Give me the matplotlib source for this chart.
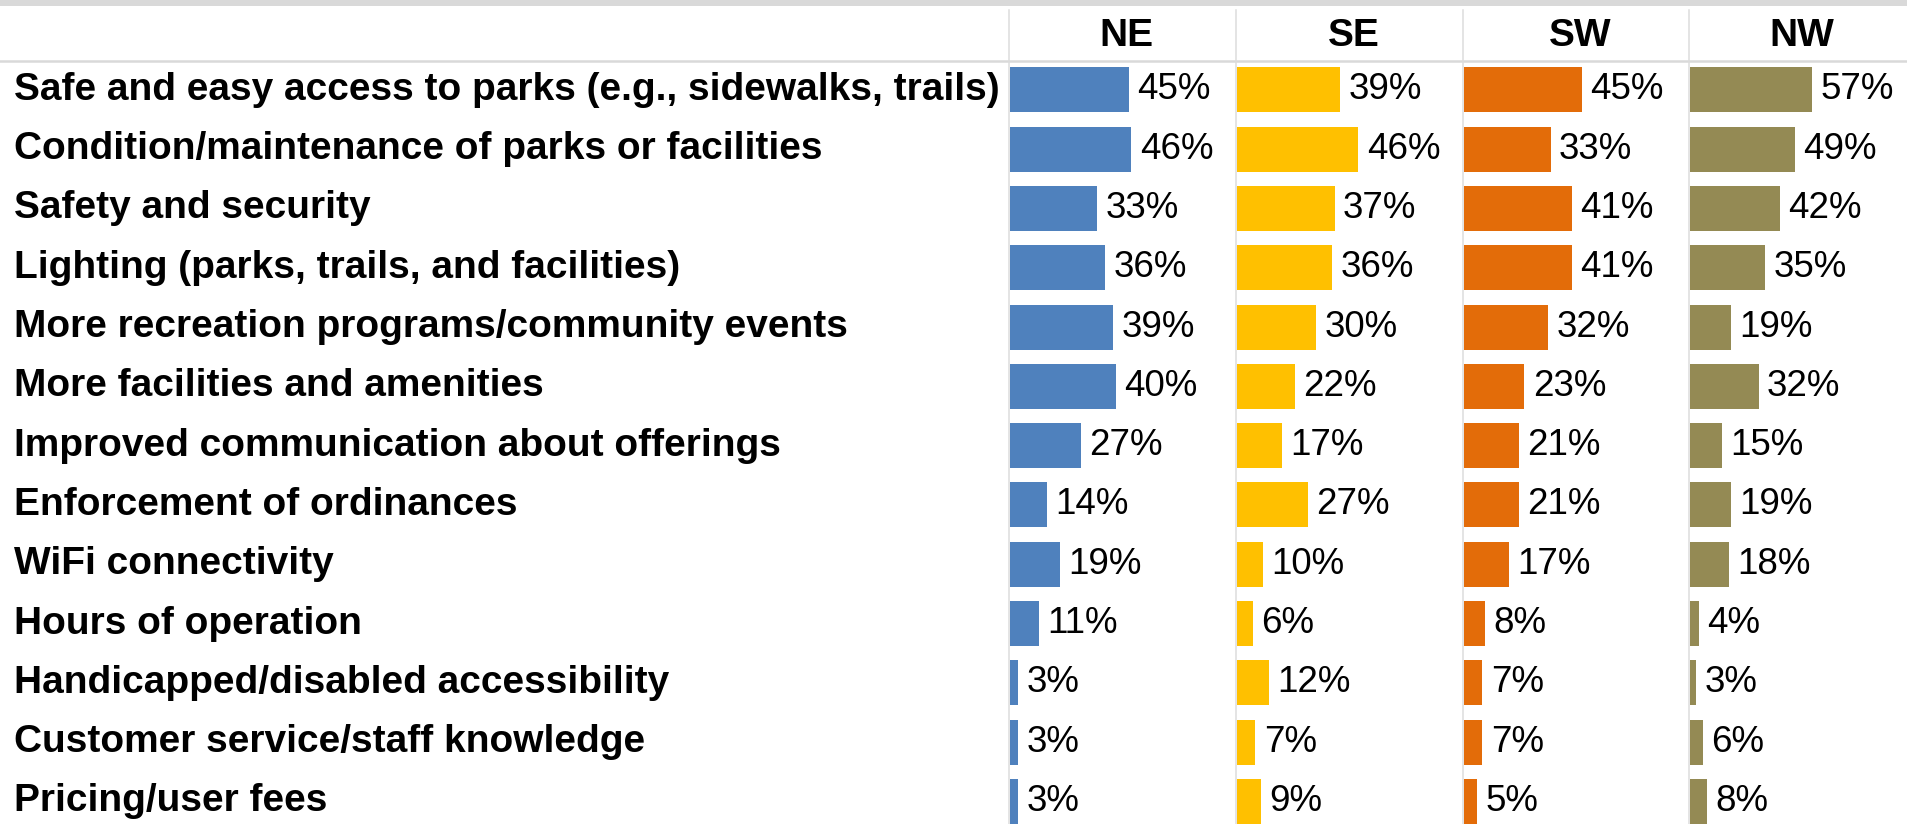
import matplotlib.pyplot as plt
from matplotlib.transforms import blended_transform_factory
from matplotlib.lines import Line2D
from matplotlib.patches import Rectangle

plt.rcParams['font.family'] = ['Liberation Sans', 'DejaVu Sans']

categories = [
    'Safe and easy access to parks (e.g., sidewalks, trails)',
    'Condition/maintenance of parks or facilities',
    'Safety and security',
    'Lighting (parks, trails, and facilities)',
    'More recreation programs/community events',
    'More facilities and amenities',
    'Improved communication about offerings',
    'Enforcement of ordinances',
    'WiFi connectivity',
    'Hours of operation',
    'Handicapped/disabled accessibility',
    'Customer service/staff knowledge',
    'Pricing/user fees',
]
regions = ['NE', 'SE', 'SW', 'NW']
ne = [45, 46, 33, 36, 39, 40, 27, 14, 19, 11, 3, 3, 3]
se = [39, 46, 37, 36, 30, 22, 17, 27, 10, 6, 12, 7, 9]
sw = [45, 33, 41, 41, 32, 23, 21, 21, 17, 8, 7, 7, 5]
nw = [57, 49, 42, 35, 19, 32, 15, 19, 18, 4, 3, 6, 8]
series = [ne, se, sw, nw]
colors = ['#4f81bd', '#ffc000', '#e36c09', '#948a54']
# each column has its own scale
xmax = [86, 86, 86, 101]

W, H = 1907, 824
fig = plt.figure(figsize=(W / 100, H / 100), dpi=100)

# panel edges in pixels
edges = [1010, 1237, 1464, 1690, 1907]
top_px, row_px = 60.2, 59.3
n = len(categories)
bottom_px = top_px + n * row_px

axes = []
for i, vals in enumerate(series):
    x0, x1 = edges[i], edges[i + 1]
    ax = fig.add_axes([x0 / W, 1 - bottom_px / H, (x1 - x0) / W, n * row_px / H])
    ypos = list(range(n))
    ax.barh(ypos, vals, height=0.76, color=colors[i], left=0)
    for y, v in zip(ypos, vals):
        ax.annotate(f'{v}%', (v, y), xytext=(6, 0), textcoords='offset points',
                    va='center', ha='left', fontsize=26.5, color='black')
    ax.set_xlim(0, xmax[i])
    ax.set_ylim(n - 0.5, -0.5)
    ax.axis('off')
    axes.append(ax)

# row labels on the left
trans = blended_transform_factory(fig.transFigure, axes[0].transData)
for y, cat in enumerate(categories):
    fig.text(14 / W, y, cat, transform=trans, ha='left', va='center',
             fontsize=28, fontweight='bold', color='black')

# column headers
for i, r in enumerate(regions):
    cx = (edges[i] + edges[i + 1]) / 2 + 3
    fig.text(cx / W, 1 - 46.5 / H, r, ha='center', va='baseline',
             fontsize=28, fontweight='bold', color='black')

# grid frame: top band, header rule, column dividers
fig.add_artist(Rectangle((0, 1 - 6 / H), 1, 6 / H, transform=fig.transFigure,
                         color='#d9d9d9', lw=0))
fig.add_artist(Line2D([0, 1], [1 - 61 / H] * 2, transform=fig.transFigure,
                      color='#d9d9d9', lw=1.8))
for x in edges[:-1]:
    fig.add_artist(Line2D([(x - 1) / W] * 2, [0, 1 - 10 / H],
                          transform=fig.transFigure, color='#dcdcdc', lw=1.1))

fig.savefig('out.png', dpi=100)
